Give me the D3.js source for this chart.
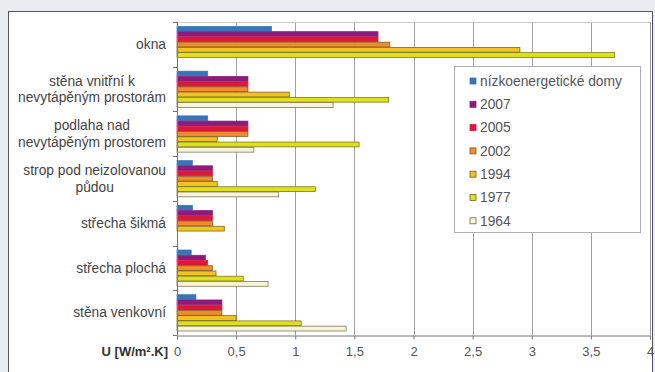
<!DOCTYPE html>
<html><head><meta charset="utf-8">
<script src="https://cdn.jsdelivr.net/npm/d3@7"></script>
<style>
html,body{margin:0;padding:0;background:#e9edf2;}
svg{display:block;font-family:"Liberation Sans",Arial,sans-serif;}
</style></head>
<body>
<svg id="c" width="655" height="372"></svg>
<script>
const categories = ["okna","stěna vnitřní k nevytápěným prostorám","podlaha nad nevytápěným prostorem","strop pod neizolovanou půdou","střecha šikmá","střecha plochá","stěna venkovní"];
const categoryLines = [["okna"],["stěna vnitřní k","nevytápěným prostorám"],["podlaha nad","nevytápěným prostorem"],["strop pod neizolovanou","půdou"],["střecha šikmá"],["střecha plochá"],["stěna venkovní"]];
const seriesNames = ["nízkoenergetické domy","2007","2005","2002","1994","1977","1964"];
const valNizko = [0.8, 0.26, 0.26, 0.13, 0.13, 0.12, 0.16];
const val2007  = [1.7, 0.6, 0.6, 0.3, 0.3, 0.24, 0.38];
const val2005  = [1.7, 0.6, 0.6, 0.3, 0.3, 0.26, 0.38];
const val2002  = [1.8, 0.6, 0.6, 0.3, 0.3, 0.3, 0.38];
const val1994  = [2.9, 0.95, 0.34, 0.34, 0.4, 0.33, 0.5];
const val1977  = [3.7, 1.79, 1.54, 1.17, null, 0.56, 1.05];
const val1964  = [null, 1.32, 0.65, 0.86, null, 0.77, 1.43];
const xTicks = [0,0.5,1,1.5,2,2.5,3,3.5,4];
const xTitle = "U [W/m².K]";

const seriesValues = [valNizko,val2007,val2005,val2002,val1994,val1977,val1964];
const colors = ["#3b73b5","#8a1c7c","#d91a3c","#f08c2c","#f2c21e","#e0e01a","#f6f5dc"];
const strokes = ["#3b73b5","#8a1c7c","#d91a3c","#6f5a22","#6f5a22","#6f6a22","#6f6a40"];

const svg = d3.select("#c");
// white chart box
svg.append("rect").attr("x",8.5).attr("y",11.5).attr("width",644).attr("height",380)
  .attr("fill","#fff").attr("stroke","#555").attr("stroke-width",1);

const x = d3.scaleLinear().domain([0,4]).range([177,650]);
const y0 = d3.scaleBand().domain(categories).range([22,335]).paddingInner(0.18).paddingOuter(0.09);
const y1 = d3.scaleBand().domain(seriesNames).range([0,y0.bandwidth()]);

// gridlines
svg.append("g").selectAll("line").data(xTicks.filter(t=>t>0)).join("line")
  .attr("x1",d=>Math.round(x(d))+0.5).attr("x2",d=>Math.round(x(d))+0.5)
  .attr("y1",22).attr("y2",335).attr("stroke","#a0a0a0").attr("stroke-width",1);
svg.append("line").attr("x1",177).attr("x2",650).attr("y1",22.5).attr("y2",22.5).attr("stroke","#c8c8c8");

// bars
const bars = [];
seriesValues.forEach((vals,si)=>vals.forEach((v,ci)=>{ if(v!=null) bars.push({si,ci,v}); }));
svg.append("g").selectAll("rect").data(bars).join("rect")
  .attr("x",x(0)).attr("y",d=>y0(categories[d.ci])+y1(seriesNames[d.si])+0.4)
  .attr("width",d=>x(d.v)-x(0)).attr("height",y1.bandwidth()-0.4)
  .attr("fill",d=>colors[d.si]).attr("stroke",d=>strokes[d.si]).attr("stroke-width",0.7);

// x axis
const xAxis = d3.axisBottom(x).tickValues(xTicks).tickSize(4).tickPadding(7)
  .tickFormat(d=>String(d).replace(".",","));
const gx = svg.append("g").attr("transform","translate(0,335.5)").call(xAxis);
gx.select(".domain").attr("stroke","#777");
gx.selectAll(".tick line").attr("stroke","#777");
gx.selectAll("text").attr("fill","#555").attr("font-size",13).attr("font-family","Liberation Sans, Arial, sans-serif");

// y axis (ticks at band boundaries)
const yAxisG = svg.append("g");
yAxisG.append("line").attr("x1",177.5).attr("x2",177.5).attr("y1",22).attr("y2",335).attr("stroke","#777");
const bounds = categories.map(c=>y0(c)-y0.step()*y0.paddingInner()/2).concat([335]);
yAxisG.selectAll("line.t").data(bounds).join("line").attr("class","t")
  .attr("x1",173).attr("x2",177.5).attr("y1",d=>Math.round(d)+0.5).attr("y2",d=>Math.round(d)+0.5).attr("stroke","#777");

// category labels
const lh = 16.5;
categories.forEach((c,i)=>{
  const lines = categoryLines[i];
  const cy = y0(c)+y0.bandwidth()/2;
  const g = svg.append("g");
  const texts = lines.map((l,j)=>g.append("text").text(l)
      .attr("y",cy + (j-(lines.length-1)/2)*lh).attr("dy","0.35em")
      .attr("font-size",13.8).attr("fill","#444").attr("text-anchor","middle"));
  const w = d3.max(texts,t=>t.node().getComputedTextLength());
  texts.forEach(t=>t.attr("x",166-w/2));
});

// axis title
svg.append("text").text(xTitle).attr("x",168).attr("y",351).attr("dy","0.35em")
  .attr("text-anchor","end").attr("font-size",13).attr("font-weight","bold").attr("fill","#333");

// legend
const lg = svg.append("g");
lg.append("rect").attr("x",454.5).attr("y",66.5).attr("width",186).attr("height",166)
  .attr("fill","#fff").attr("stroke","#b0b0b0");
seriesNames.forEach((s,i)=>{
  const yy = 81 + i*23.3;
  lg.append("rect").attr("x",470).attr("y",yy-3).attr("width",6).attr("height",6)
    .attr("fill",colors[i]).attr("stroke",strokes[i]).attr("stroke-width",0.8);
  lg.append("text").text(s).attr("x",480).attr("y",yy).attr("dy","0.35em")
    .attr("font-size",13.8).attr("fill","#555");
});
</script>
</body></html>
